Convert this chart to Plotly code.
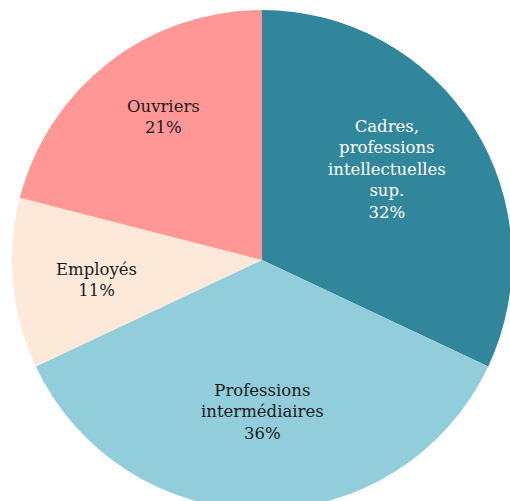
import math
import plotly.graph_objects as go

# Répartition par catégorie socioprofessionnelle
categories = [
    "Cadres,<br>professions<br>intellectuelles<br>sup.",
    "Professions<br>intermédiaires",
    "Employés",
    "Ouvriers",
]
parts = [32, 36, 11, 21]
colors = ["#31869B", "#92CDDC", "#FDE9D9", "#FF9797"]
text_colors = ["#FFFFFF", "#1A1A1A", "#1A1A1A", "#1A1A1A"]

# label placement: fraction of the radius and small angular nudge (degrees)
label_radius = [0.616, 0.608, 0.665, 0.694]
label_nudge = [-3.4, 0.0, -1.5, 3.4]

fig = go.Figure(
    go.Pie(
        labels=categories,
        values=parts,
        sort=False,
        direction="clockwise",
        rotation=0,
        marker=dict(colors=colors, line=dict(width=0)),
        textinfo="none",
        hoverinfo="label+percent",
        showlegend=False,
        domain=dict(x=[0, 1], y=[0, 1]),
    )
)

# slice labels placed along each slice's mid angle (clockwise from 12 o'clock)
total = sum(parts)
start = 0.0
for cat, val, col, rf, nudge in zip(categories, parts, text_colors, label_radius, label_nudge):
    span = 360.0 * val / total
    mid = math.radians(start + span / 2 + nudge)
    start += span
    fig.add_annotation(
        x=0.5 + 0.5 * rf * math.sin(mid),
        y=0.5 + 0.5 * rf * math.cos(mid),
        xref="paper",
        yref="paper",
        text=f"{cat}<br>{val}%",
        showarrow=False,
        xanchor="center",
        yanchor="middle",
        align="center",
        font=dict(family="DejaVu Serif", size=16.5, color=col),
    )

fig.update_layout(
    width=524,
    height=520,
    margin=dict(l=12, r=12, t=10, b=10),
    paper_bgcolor="white",
    plot_bgcolor="white",
)

fig.write_html(
    "out.html",
    post_script="document.body.style.margin='0';document.body.style.overflow='hidden';",
)
